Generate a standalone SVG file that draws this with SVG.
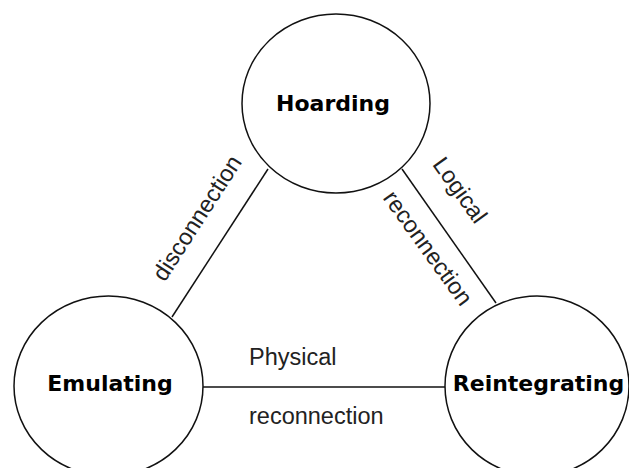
<svg xmlns="http://www.w3.org/2000/svg" width="629" height="468" viewBox="0 0 629 468">
<style>
.node{fill:#fff;stroke:#111;stroke-width:1.5}
.nl{font-family:"DejaVu Sans",sans-serif;font-weight:bold;font-size:22px;fill:#000;text-anchor:middle}
.edge{stroke:#111;stroke-width:1.5;fill:none}
.el{font-family:"Liberation Sans",Arial,sans-serif;font-size:23.5px;fill:#222}
.mid{text-anchor:middle}
</style>
<rect width="629" height="468" fill="#fff"/>
<g id="connectors">
<line class="edge" x1="172" y1="317" x2="268" y2="169"/>
<line class="edge" x1="402" y1="169" x2="496" y2="303"/>
<line class="edge" x1="203" y1="387" x2="445" y2="387"/>
<text class="el mid" transform="translate(197,218) rotate(-57.2)" y="8">disconnection</text>
<text class="el mid" transform="translate(460,190) rotate(54.3)" y="8">Logical</text>
<text class="el mid" transform="translate(428,248) rotate(54.3)" y="8">reconnection</text>
<text class="el" x="249" y="365">Physical</text>
<text class="el" x="249" y="424">reconnection</text>
</g>
<g id="hoarding">
<ellipse class="node" cx="336" cy="103.5" rx="94" ry="89.5"/>
<text class="nl" x="333" y="111">Hoarding</text>
</g>
<g id="emulating">
<ellipse class="node" cx="108.5" cy="386" rx="94.5" ry="90"/>
<text class="nl" x="110" y="391">Emulating</text>
</g>
<g id="reintegrating">
<ellipse class="node" cx="537" cy="386" rx="92" ry="90"/>
<text class="nl" x="538.5" y="391">Reintegrating</text>
</g>
</svg>
